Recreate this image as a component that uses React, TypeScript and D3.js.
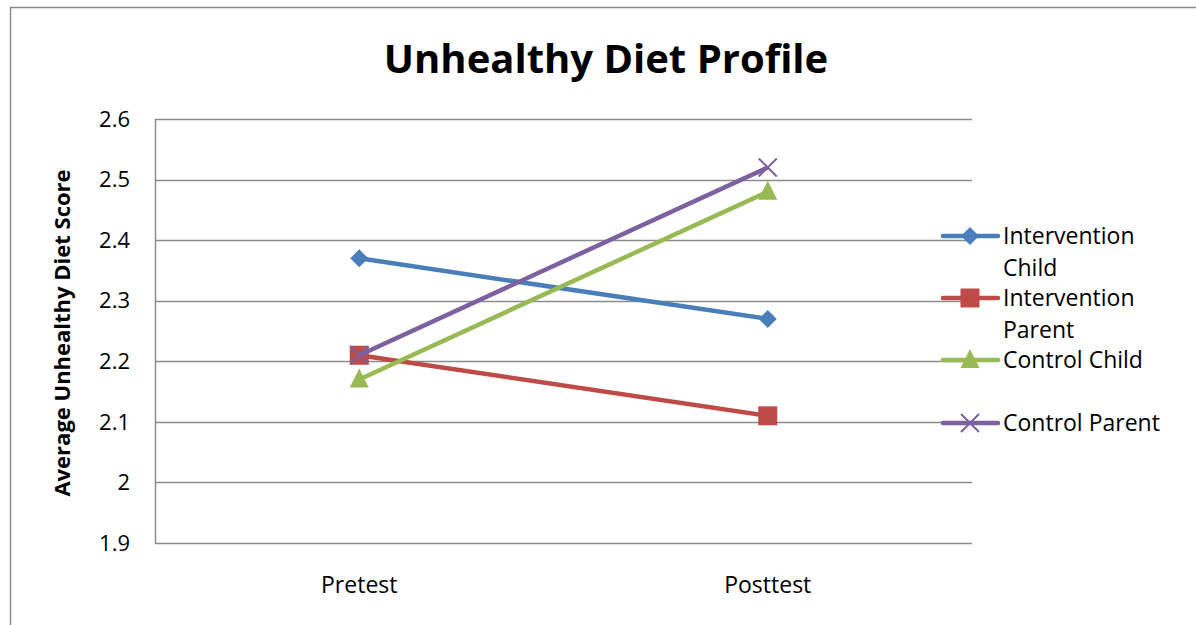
import { useEffect, useRef } from 'react';
import * as d3 from 'd3';

const categories = ['Pretest', 'Posttest'];
const seriesNames = ['Intervention Child', 'Intervention Parent', 'Control Child', 'Control Parent'];
const interventionChild = [2.37, 2.27];
const interventionParent = [2.21, 2.11];
const controlChild = [2.17, 2.48];
const controlParent = [2.21, 2.52];
const yTicks = [1.9, 2, 2.1, 2.2, 2.3, 2.4, 2.5, 2.6];

const colors = ['#4A7EBB', '#BE4B48', '#98B954', '#7D60A0'];
const symbols = ['diamond', 'square', 'triangle', 'cross'];
const legendLabels = [['Intervention', 'Child'], ['Intervention', 'Parent'], ['Control Child'], ['Control Parent']];
const legendY = [236, 298, 360, 423];

const FONT = '"Open Sans", sans-serif';

const App = () => {
  const svgRef = useRef<SVGSVGElement>(null);

  useEffect(() => {
    const width = 1196;
    const height = 625;
    const left = 155, right = 972, top = 119, bottom = 543;

    const svg = d3.select(svgRef.current);
    svg.selectAll('*').remove();
    svg.attr('width', width).attr('height', height);

    // chart frame
    svg.append('rect')
      .attr('x', 10.5).attr('y', 7.5)
      .attr('width', 1200).attr('height', 700)
      .attr('fill', 'white').attr('stroke', '#8c8c8c').attr('stroke-width', 1.5);

    const x = d3.scaleBand().domain(categories).range([left, right]);
    const y = d3.scaleLinear().domain([1.9, 2.6]).range([bottom, top]);

    // gridlines
    svg.append('g')
      .selectAll('line')
      .data(yTicks)
      .enter()
      .append('line')
      .attr('x1', left).attr('x2', right)
      .attr('y1', d => Math.round(y(d)) + 0.5).attr('y2', d => Math.round(y(d)) + 0.5)
      .attr('stroke', '#8c8c8c').attr('stroke-width', 1.5);

    svg.append('line')
      .attr('x1', left + 0.5).attr('x2', left + 0.5)
      .attr('y1', top).attr('y2', bottom + 1)
      .attr('stroke', '#8c8c8c').attr('stroke-width', 1.5);

    // y tick labels
    svg.append('g')
      .selectAll('text')
      .data(yTicks)
      .enter()
      .append('text')
      .attr('x', 130)
      .attr('y', d => y(d))
      .attr('dy', '0.35em')
      .attr('text-anchor', 'end')
      .style('font-family', FONT)
      .style('font-size', '22px')
      .text(d => String(d));

    // category labels
    svg.append('g')
      .selectAll('text')
      .data(categories)
      .enter()
      .append('text')
      .attr('x', d => (x(d) as number) + x.bandwidth() / 2)
      .attr('y', 585)
      .attr('dy', '0.35em')
      .attr('text-anchor', 'middle')
      .style('font-family', FONT)
      .style('font-size', '23px')
      .text(d => d);

    // title
    svg.append('text')
      .attr('x', 606).attr('y', 59)
      .attr('dy', '0.35em')
      .attr('text-anchor', 'middle')
      .style('font-family', FONT)
      .style('font-weight', 'bold')
      .style('font-size', '40px')
      .text('Unhealthy Diet Profile');

    // y axis title
    svg.append('text')
      .attr('transform', 'translate(62, 333) rotate(-90)')
      .attr('dy', '0.35em')
      .attr('text-anchor', 'middle')
      .style('font-family', FONT)
      .style('font-weight', 'bold')
      .style('font-size', '22px')
      .text('Average Unhealthy Diet Score');

    const series = [interventionChild, interventionParent, controlChild, controlParent];
    const line = d3.line<number>()
      .x((_, i) => (x(categories[i]) as number) + x.bandwidth() / 2)
      .y(d => y(d));

    const drawMarker = (g: any, kind: string, cx: number, cy: number, color: string) => {
      if (kind === 'diamond') {
        g.append('path').attr('d', `M${cx},${cy - 9}L${cx + 9},${cy}L${cx},${cy + 9}L${cx - 9},${cy}Z`).attr('fill', color);
      } else if (kind === 'square') {
        g.append('rect').attr('x', cx - 9.5).attr('y', cy - 9.5).attr('width', 19).attr('height', 19).attr('fill', color);
      } else if (kind === 'triangle') {
        g.append('path').attr('d', `M${cx},${cy - 11}L${cx + 9.5},${cy + 8}L${cx - 9.5},${cy + 8}Z`).attr('fill', color);
      } else {
        g.append('path').attr('d', `M${cx - 9},${cy - 9}L${cx + 9},${cy + 9}M${cx - 9},${cy + 9}L${cx + 9},${cy - 9}`)
          .attr('stroke', color).attr('stroke-width', 2).attr('fill', 'none');
      }
    };

    series.forEach((vals, s) => {
      const g = svg.append('g');
      g.append('path')
        .datum(vals)
        .attr('d', line)
        .attr('fill', 'none')
        .attr('stroke', colors[s])
        .attr('stroke-width', 4.5)
        .attr('stroke-linejoin', 'round');
      vals.forEach((v, i) => {
        drawMarker(g, symbols[s], (x(categories[i]) as number) + x.bandwidth() / 2, y(v), colors[s]);
      });
    });

    // legend
    seriesNames.forEach((name, s) => {
      const g = svg.append('g');
      const ly = legendY[s];
      g.append('line')
        .attr('x1', 943).attr('x2', 998)
        .attr('y1', ly).attr('y2', ly)
        .attr('stroke', colors[s]).attr('stroke-width', 4.5).attr('stroke-linecap', 'round');
      drawMarker(g, symbols[s], 970, ly, colors[s]);
      legendLabels[s].forEach((t, k) => {
        g.append('text')
          .attr('x', 1003).attr('y', ly + k * 32)
          .attr('dy', '0.35em')
          .style('font-family', FONT)
          .style('font-size', '23px')
          .text(t);
      });
    });
  }, []);

  return (
    <svg ref={svgRef} style={{ position: 'absolute', left: 0, top: 0 }}></svg>
  );
};

export default App;
